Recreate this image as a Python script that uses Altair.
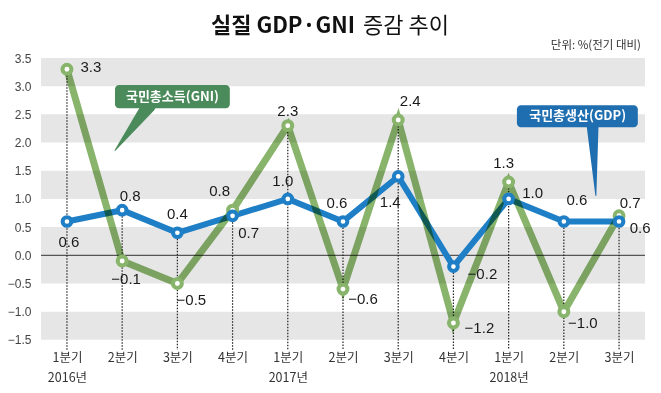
import altair as alt
import pandas as pd

# ---------------- data ----------------
quarters = ["1분기", "2분기", "3분기", "4분기", "1분기", "2분기", "3분기", "4분기", "1분기", "2분기", "3분기"]
years = ["2016년", "", "", "", "2017년", "", "", "", "2018년", "", ""]
gni = [3.3, -0.1, -0.5, 0.8, 2.3, -0.6, 2.4, -1.2, 1.3, -1.0, 0.7]
gdp = [0.6, 0.8, 0.4, 0.7, 1.0, 0.6, 1.4, -0.2, 1.0, 0.6, 0.6]
y_ticks = [-1.5, -1.0, -0.5, 0.0, 0.5, 1.0, 1.5, 2.0, 2.5, 3.0, 3.5]
band_lo = [3.0, 2.0, 1.0, -0.5, -1.5]
band_hi = [3.5, 2.5, 1.5, 0.5, -1.0]

title_bold = "실질 GDP·GNI"
title_light = "증감 추이"
unit_text = "단위: %(전기 대비)"
gni_name = "국민총소득(GNI)"
gdp_name = "국민총생산(GDP)"

# ---------------- style ----------------
GNI_COLOR = "#88b46b"
GDP_COLOR = "#1f7fc6"
GNI_BOX = "#4b8b5b"
GDP_BOX = "#1f6eb0"
BAND = "#e6e6e6"
NUM_FONT = "Liberation Sans Narrow, Liberation Sans, sans-serif"
KR_FONT = "Noto Sans CJK KR"
X_DOMAIN = [-0.47, 10.47]
Y_DOMAIN = [-1.68, 3.5]

# label offsets (dx, dy) in pixels, per point
gni_off = [(24, -2), (4, 18), (14, 17), (-13, -19), (0, -15), (20, 10),
           (12, -19), (26, 5), (-5, -19), (19, 11), (11, -13)]
gdp_off = [(2, 21), (8, -14), (0, -19), (16, 17), (-5, -18), (-6, -18),
           (-8, 26), (29, 7), (24, -6), (13, -21), (21, 7)]

n = len(gni)
idx = list(range(n))

def fmt(v):
    return f"{v:.1f}".replace("-", "\u2212")

df = pd.DataFrame({"idx": idx, "gni": gni, "gdp": gdp})
df["top"] = df[["gni", "gdp"]].max(axis=1)
df["bottom"] = Y_DOMAIN[0]

bands = pd.DataFrame({"lo": band_lo, "hi": band_hi})

xscale = alt.Scale(domain=X_DOMAIN, nice=False, zero=False)
yscale = alt.Scale(domain=Y_DOMAIN, nice=False, zero=False)

label_items = []
for i in idx:
    label_items.append("[" + ",".join(f"'{s}'" for s in [quarters[i], years[i]] if s) + "]")
x_label_expr = "[" + ",".join(label_items) + "][datum.value]"

x_axis = alt.Axis(values=idx, labelExpr=x_label_expr, domain=False, ticks=False, grid=False,
                  labelFont=KR_FONT, labelFontSize=12.5, labelColor="#333", labelPadding=1,
                  labelLineHeight=20, labelOverlap=False, labelFlush=False, title=None)
y_axis = alt.Axis(values=y_ticks, format=".1f", domain=False, ticks=False, grid=False,
                  labelFont=NUM_FONT, labelFontSize=12, labelColor="#444", labelPadding=10,
                  title=None)

def X(field):
    return alt.X(field, scale=xscale, axis=x_axis, title=None)

def Y(field):
    return alt.Y(field, scale=yscale, axis=y_axis, title=None)

base = alt.Chart(df)

band_layer = alt.Chart(bands).mark_rect(color=BAND).encode(y=Y("lo:Q"), y2="hi:Q")

zero_layer = alt.Chart(pd.DataFrame({"z": [0.0]})).mark_rule(color="#333", strokeWidth=1).encode(
    y=Y("z:Q"))

dots = base.mark_rule(color="#222", strokeWidth=1.2, strokeDash=[1.5, 1.5]).encode(
    x=X("idx:Q"), y=Y("top:Q"), y2="bottom:Q")

gdp_line = base.mark_line(color=GDP_COLOR, strokeWidth=6).encode(x=X("idx:Q"), y=Y("gdp:Q"))
gni_line = base.mark_line(color=GNI_COLOR, strokeWidth=7, blend="multiply").encode(
    x=X("idx:Q"), y=Y("gni:Q"))
gni_pts = base.mark_point(shape="circle", filled=True, fill="white", stroke=GNI_COLOR,
                          strokeWidth=4, size=80, opacity=1).encode(x=X("idx:Q"), y=Y("gni:Q"))
gdp_pts = base.mark_point(shape="circle", filled=True, fill="white", stroke=GDP_COLOR,
                          strokeWidth=4, size=75, opacity=1).encode(x=X("idx:Q"), y=Y("gdp:Q"))

label_layers = []
for series, vals, offs in [("gni", gni, gni_off), ("gdp", gdp, gdp_off)]:
    for i in idx:
        ldf = pd.DataFrame({"idx": [i], "v": [vals[i]], "t": [fmt(vals[i])]})
        dx, dy = offs[i]
        label_layers.append(
            alt.Chart(ldf).mark_text(font=NUM_FONT, fontSize=15, color="#1a1a1a",
                                     dx=dx, dy=dy, align="center", baseline="middle").encode(
                x=X("idx:Q"), y=Y("v:Q"), text="t:N"))

# callouts (in data coordinates)
def callout(x0, x1, y0, y1, tx, ty, tail, color, text):
    box = alt.Chart(pd.DataFrame({"x0": [x0], "x1": [x1], "y0": [y0], "y1": [y1]})).mark_rect(
        color=color, cornerRadius=4).encode(x=X("x0:Q"), x2="x1:Q", y=Y("y0:Q"), y2="y1:Q")
    tdf = pd.DataFrame({"tx": [t[0] for t in tail], "ty": [t[1] for t in tail],
                        "s": [t[2] for t in tail], "o": [0, 1]})
    tr = alt.Chart(tdf).mark_trail(color=color).encode(
        x=X("tx:Q"), y=Y("ty:Q"),
        size=alt.Size("s:Q", scale=None, legend=None), order="o:Q")
    txt = alt.Chart(pd.DataFrame({"tx": [tx], "ty": [ty], "t": [text]})).mark_text(
        font=KR_FONT, fontSize=13, fontWeight="bold", color="white",
        align="center", baseline="middle").encode(x=X("tx:Q"), y=Y("ty:Q"), text="t:N")
    return [tr, box, txt]

gni_call = callout(0.87, 2.95, 3.02, 2.61, 1.91, 2.81,
                   [(1.48, 2.65, 14), (0.87, 1.86, 0)], GNI_BOX, gni_name)
gdp_call = callout(8.15, 10.34, 2.66, 2.27, 9.25, 2.465,
                   [(9.52, 2.31, 12), (9.58, 1.06, 0)], GDP_BOX, gdp_name)

t1 = alt.Chart(pd.DataFrame({"t": [title_bold]})).mark_text(
    font=KR_FONT, fontSize=22, fontWeight="bold", color="#111", align="right",
    baseline="middle").encode(x=alt.value(314), y=alt.value(-32), text="t:N")
t2 = alt.Chart(pd.DataFrame({"t": [title_light]})).mark_text(
    font=KR_FONT, fontSize=22, fontWeight="normal", color="#111", align="left",
    baseline="middle").encode(x=alt.value(322), y=alt.value(-32), text="t:N")
t3 = alt.Chart(pd.DataFrame({"t": [unit_text]})).mark_text(
    font=KR_FONT, fontSize=11.5, color="#333", align="right",
    baseline="middle").encode(x=alt.value(600), y=alt.value(-12), text="t:N")

chart = alt.layer(
    band_layer, zero_layer, dots, gdp_line, gni_line, gni_pts, gdp_pts,
    *label_layers, *gni_call, *gdp_call, t1, t2, t3
).properties(
    width=604, height=292,
    padding={"left": 33, "top": 50, "right": 8, "bottom": 35},
    autosize=alt.AutoSizeParams(type="none"),
    background="white",
).configure_view(stroke=None)

chart.save("out.html", embed_options={"renderer": "svg", "actions": False})
